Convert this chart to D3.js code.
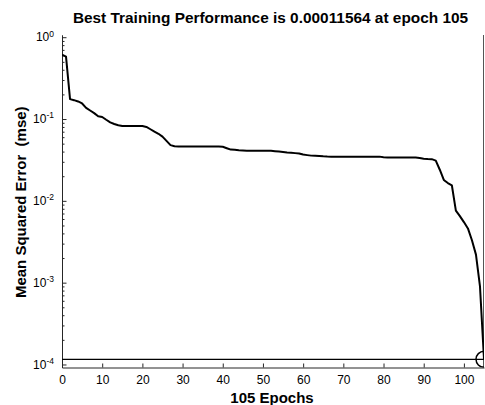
<!DOCTYPE html>
<html>
<head>
<meta charset="utf-8">
<script src="https://cdn.jsdelivr.net/npm/d3@7"></script>
<style>
  body { margin: 0; background: #fff; }
  svg { display: block; font-family: "Liberation Sans", Arial, sans-serif; }
  .axis path, .axis line { stroke: #262626; }
  .axis text { font-size: 12px; fill: #000; }
</style>
</head>
<body>
<div id="chart-area"></div>
<script>

// data: training mse per epoch (0..105)
var epochs = d3.range(0, 106);
var perf = [
    0.61, 0.58, 0.175, 0.170, 0.164, 0.155, 0.137, 0.127, 0.118, 0.108,
    0.106, 0.098, 0.091, 0.087, 0.084, 0.0823, 0.0823, 0.0823, 0.0823, 0.0823,
    0.0823, 0.080, 0.075, 0.070, 0.066, 0.061, 0.054, 0.048, 0.0465, 0.046,
    0.046, 0.046, 0.046, 0.046, 0.046, 0.046, 0.046, 0.046, 0.046, 0.046,
    0.0458, 0.044, 0.0423, 0.042, 0.0415, 0.0413, 0.041, 0.041, 0.041, 0.041,
    0.041, 0.041, 0.041, 0.0405, 0.040, 0.0395, 0.039, 0.0387, 0.0383, 0.0378,
    0.0368, 0.0362, 0.0357, 0.0355, 0.0353, 0.035, 0.0348, 0.0347, 0.0347, 0.0347,
    0.0347, 0.0347, 0.0347, 0.0347, 0.0347, 0.0347, 0.0347, 0.0347, 0.0347, 0.0347,
    0.0342, 0.0338, 0.0338, 0.0338, 0.0338, 0.0338, 0.0338, 0.0338, 0.0338, 0.0333,
    0.0328, 0.0325, 0.0323, 0.031, 0.024, 0.018, 0.0165, 0.0155, 0.0076, 0.0065,
    0.0055, 0.0046, 0.0033, 0.0022, 0.0009, 0.00011564
];
var bestEpoch = 105;
var bestPerf = 0.00011564;

var xTicks = [0, 10, 20, 30, 40, 50, 60, 70, 80, 90, 100];
var yTicks = [1e-4, 1e-3, 1e-2, 1e-1, 1];
var yExponents = ["-4", "-3", "-2", "-1", "0"];

var titleText = "Best Training Performance is 0.00011564 at epoch 105";
var xLabel = "105 Epochs";
var yLabel = "Mean Squared Error  (mse)";

// SVG drawing area
var margin = {top: 35, right: 1, bottom: 37.5, left: 62};
var width = 485 - margin.left - margin.right,
    height = 405 - margin.top - margin.bottom;

var xScale = d3.scaleLinear()
    .domain([0, 105])
    .range([0, width]);

// log axis runs a little past 1e-4 and 1e0
var yScale = d3.scaleLog()
    .domain([Math.pow(10, -4.037), Math.pow(10, 0.027)])
    .range([height, 0]);

// minor ticks 2..9 of every decade
var minorTicks = [];
[1e-5, 1e-4, 1e-3, 1e-2, 1e-1, 1].forEach(function(dec) {
    for (var m = 2; m <= 9; m++) {
        var v = dec * m;
        if (v >= yScale.domain()[0] && v <= yScale.domain()[1]) minorTicks.push(v);
    }
});

var svg = d3.select("#chart-area").append("svg")
    .attr("width", 485)
    .attr("height", 405);

var g = svg.append("g")
    .attr("transform", "translate(" + margin.left + "," + margin.top + ")");

g.append("clipPath").attr("id", "plot-clip")
    .append("rect")
    .attr("x", 0).attr("y", 0)
    .attr("width", width).attr("height", height);

// right border
g.append("line")
    .attr("x1", width - 0.5).attr("x2", width - 0.5)
    .attr("y1", 0).attr("y2", height)
    .attr("stroke", "#555").attr("stroke-width", 1);

// axes
var xAxis = d3.axisBottom(xScale)
    .tickValues(xTicks)
    .tickSizeInner(-4)
    .tickSizeOuter(0)
    .tickPadding(7.5);

g.append("g")
    .attr("class", "axis x-axis")
    .attr("transform", "translate(0," + height + ")")
    .call(xAxis);

var yMinor = d3.axisLeft(yScale)
    .tickValues(minorTicks)
    .tickSizeInner(-2.5)
    .tickSizeOuter(0)
    .tickFormat("");

g.append("g")
    .attr("class", "axis y-minor")
    .call(yMinor);

var yAxis = d3.axisLeft(yScale)
    .tickValues(yTicks)
    .tickSizeInner(-4.5)
    .tickSizeOuter(0)
    .tickPadding(8)
    .tickFormat("");

var yAxisGroup = g.append("g")
    .attr("class", "axis y-axis")
    .call(yAxis);

// 10^n labels with superscripts
yAxisGroup.selectAll(".tick text")
    .each(function(d, i) {
        var t = d3.select(this);
        t.attr("dy", "0.3em");
        t.append("tspan").text("10");
        t.append("tspan")
            .attr("dy", "-0.55em")
            .style("font-size", "8.5px")
            .text(yExponents[i]);
    });

// best performance line
g.append("line")
    .attr("x1", 0).attr("x2", width)
    .attr("y1", yScale(bestPerf)).attr("y2", yScale(bestPerf))
    .attr("stroke", "#000").attr("stroke-width", 1.2);

// training curve
var lineGenerator = d3.line()
    .x(function(d, i) { return xScale(epochs[i]); })
    .y(function(d) { return yScale(d); });

g.append("path")
    .datum(perf)
    .attr("clip-path", "url(#plot-clip)")
    .attr("fill", "none")
    .attr("stroke", "#000")
    .attr("stroke-width", 2)
    .attr("stroke-linejoin", "round")
    .attr("d", lineGenerator);

// best point marker
g.append("circle")
    .attr("clip-path", "url(#plot-clip)")
    .attr("cx", xScale(bestEpoch))
    .attr("cy", yScale(bestPerf))
    .attr("r", 8)
    .attr("fill", "none")
    .attr("stroke", "#000")
    .attr("stroke-width", 1.5);

// texts
svg.append("text")
    .attr("x", 270.5)
    .attr("y", 22.5)
    .attr("text-anchor", "middle")
    .style("font-size", "15.4px")
    .style("font-weight", "bold")
    .text(titleText);

svg.append("text")
    .attr("x", margin.left + width / 2 - 1)
    .attr("y", 402.5)
    .attr("text-anchor", "middle")
    .style("font-size", "15px")
    .style("font-weight", "bold")
    .text(xLabel);

svg.append("text")
    .attr("transform", "translate(26," + (margin.top + height / 2 + 1) + ") rotate(-90)")
    .attr("text-anchor", "middle")
    .style("font-size", "15px")
    .style("font-weight", "bold")
    .style("white-space", "pre")
    .text(yLabel);

</script>
</body>
</html>
